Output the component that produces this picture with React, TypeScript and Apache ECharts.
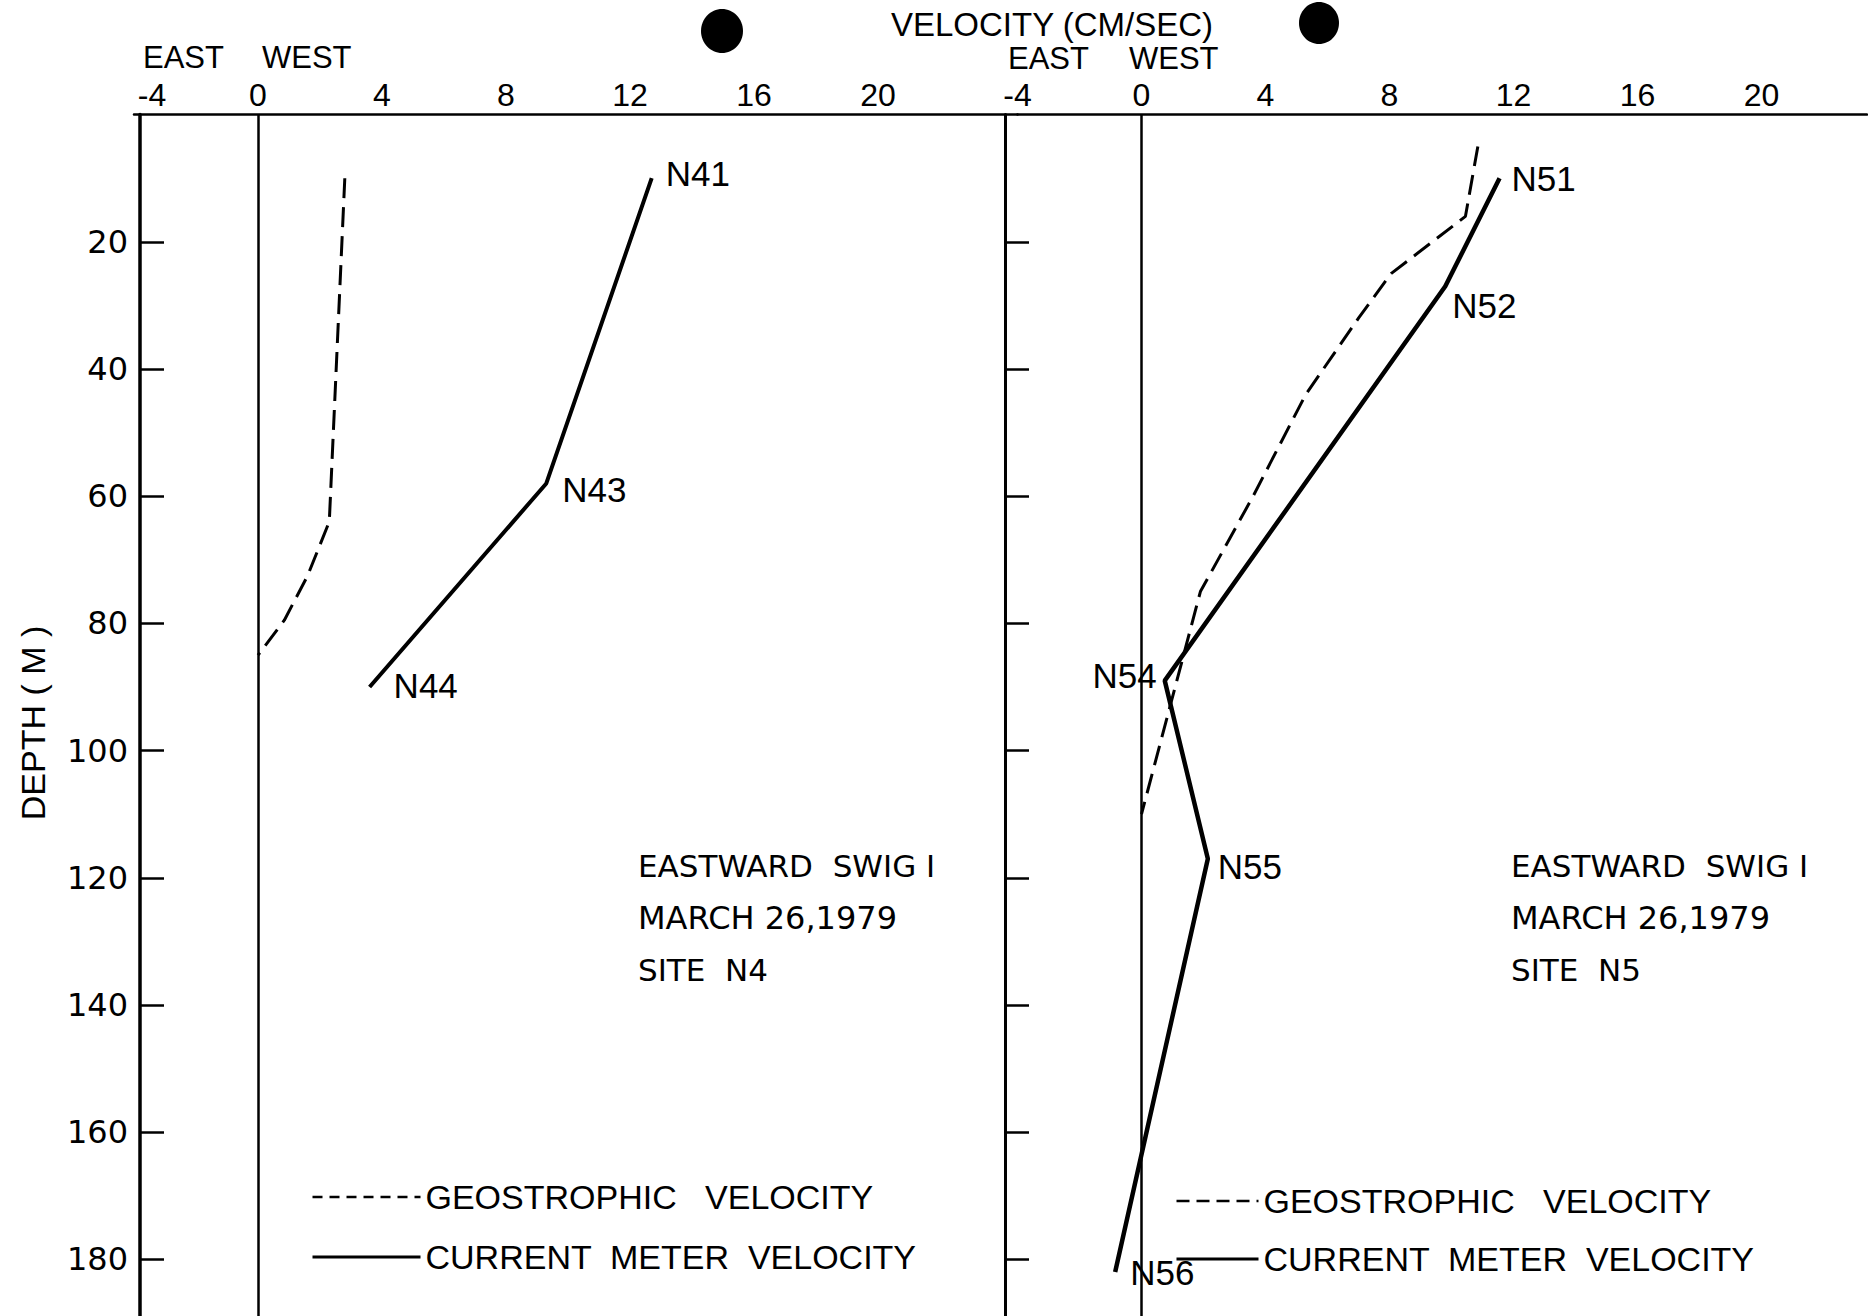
import React, { useEffect, useRef } from 'react';
import * as echarts from 'echarts';

// ---------- tick labels ----------
const velocityTicks = [-4, 0, 4, 8, 12, 16, 20];
const depthTicks = [20, 40, 60, 80, 100, 120, 140, 160, 180];

// ---------- Site N4 ----------
const n4GeoVelocity = [2.8, 2.3, 1.6, 0.85, 0];
const n4GeoDepth = [10, 64, 72.5, 79.5, 85];
const n4MeterVelocity = [12.7, 9.3, 3.6];
const n4MeterDepth = [10, 58, 90];
const n4MeterNames = ['N41', 'N43', 'N44'];

// ---------- Site N5 ----------
const n5GeoVelocity = [10.85, 10.45, 8.05, 7.0, 5.3, 3.6, 1.9, 0];
const n5GeoDepth = [5, 16, 25, 32, 44, 60, 75, 110];
const n5MeterVelocity = [11.55, 9.8, 0.75, 2.14, -0.85];
const n5MeterDepth = [10, 27, 89, 117, 182];
const n5MeterNames = ['N51', 'N52', 'N54', 'N55', 'N56'];

const GEO = 'GEOSTROPHIC   VELOCITY';
const CUR = 'CURRENT  METER  VELOCITY';

const labelPlacement: Record<string, { position: string; offset: number[] }> = {
  N41: { position: 'right', offset: [13, -5] },
  N43: { position: 'right', offset: [15, 6] },
  N44: { position: 'right', offset: [23, -1] },
  N51: { position: 'right', offset: [11, 0] },
  N52: { position: 'right', offset: [6, 19] },
  N54: { position: 'left', offset: [-7, -5] },
  N55: { position: 'right', offset: [9, 8] },
  N56: { position: 'right', offset: [14, 0] },
};

const SANS = "'Liberation Sans', Arial, sans-serif";
const WIDE = "'DejaVu Sans', Verdana, sans-serif";

function pairs(xs: number[], ys: number[]) {
  return xs.map((x, i) => [x, ys[i]]);
}

function namedPoints(xs: number[], ys: number[], names: string[]) {
  return xs.map((x, i) => ({
    value: [x, ys[i]],
    name: names[i],
    label: {
      show: true,
      position: labelPlacement[names[i]].position,
      offset: labelPlacement[names[i]].offset,
    },
  }));
}

export default function App() {
  const ref = useRef<HTMLDivElement>(null);

  useEffect(() => {
    if (!ref.current) return;
    const chart = echarts.init(ref.current, undefined, { renderer: 'svg' });

    const PX = 31; // px per cm/s
    const leftGrid = { left: 134, top: 114.6, width: 28.5 * PX, height: 1202, outerBoundsMode: 'none' };
    const rightGrid = { left: 1017.5, top: 114.6, width: 27.4 * PX, height: 1202, outerBoundsMode: 'none' };

    const xAxisBase = (gridIndex: number, max: number, shiftFirst: boolean) => ({
      type: 'value',
      gridIndex,
      position: 'top',
      min: -4,
      max,
      splitLine: { show: false },
      axisTick: { show: false },
      axisLine: { show: true, onZero: false, lineStyle: { color: '#000', width: 2.5 } },
      axisLabel: {
        customValues: velocityTicks,
        color: '#000',
        fontFamily: SANS,
        fontSize: 32,
        lineHeight: 32,
        margin: 4,
        formatter: (v: number) => (shiftFirst && v === velocityTicks[0] ? '{s|' + v + '}' : String(v)),
        rich: { s: { padding: [0, 0, 0, 36], fontFamily: SANS, fontSize: 32, lineHeight: 32, color: '#000' } },
      },
    });

    const yAxisBase = (gridIndex: number, showLabels: boolean, offset: number, lineWidth: number) => ({
      type: 'value',
      gridIndex,
      inverse: true,
      min: 0,
      max: 189,
      offset,
      splitLine: { show: false },
      axisLine: { show: true, onZero: false, lineStyle: { color: '#000', width: lineWidth } },
      axisTick: {
        show: true,
        inside: true,
        length: 24,
        customValues: depthTicks,
        lineStyle: { color: '#000', width: 2.5 },
      },
      axisLabel: {
        show: showLabels,
        customValues: depthTicks,
        color: '#000',
        fontFamily: WIDE,
        fontSize: 32,
        margin: 12,
      },
    });

    const zeroLine = {
      silent: true,
      symbol: ['none', 'none'],
      label: { show: false },
      lineStyle: { color: '#000', width: 2.5, type: 'solid' },
      data: [{ xAxis: 0 }],
    };

    const pointLabel = {
      show: false,
      formatter: '{b}',
      distance: 0,
      color: '#000',
      fontFamily: SANS,
      fontSize: 35,
    };

    const geoSeries = (idx: number, data: number[][], dash: number[]) => ({
      type: 'line',
      name: GEO,
      xAxisIndex: idx,
      yAxisIndex: idx,
      data,
      symbol: 'none',
      itemStyle: { color: 'rgba(0,0,0,0)' },
      lineStyle: { color: '#000', width: 3, type: dash },
      markLine: zeroLine,
      z: 3,
    });

    const meterSeries = (idx: number, data: any[], width: number) => ({
      type: 'line',
      name: CUR,
      xAxisIndex: idx,
      yAxisIndex: idx,
      data,
      symbol: 'circle',
      symbolSize: 2,
      showSymbol: true,
      itemStyle: { color: 'rgba(0,0,0,0)' },
      lineStyle: { color: '#000', width },
      label: pointLabel,
      z: 4,
    });

    const legendBase = (left: number, top: number, itemWidth: number, itemGap: number, dash: number[]) => ({
      left,
      top,
      orient: 'vertical',
      padding: 0,
      itemWidth,
      itemHeight: 20,
      itemGap,
      selectedMode: false,
      textStyle: { color: '#000', fontFamily: SANS, fontSize: 34, lineHeight: 34 },
      data: [
        { name: GEO, itemStyle: { color: 'rgba(0,0,0,0)', opacity: 0 }, lineStyle: { type: dash, width: 2.5, color: '#000' } },
        { name: CUR, itemStyle: { color: 'rgba(0,0,0,0)', opacity: 0 }, lineStyle: { type: 'solid', width: 3, color: '#000' } },
      ],
    });

    const textEl = (text: string, x: number, y: number, size: number, family: string, extra: any = {}) => ({
      type: 'text',
      x,
      y,
      silent: true,
      ...extra,
      style: {
        text,
        fill: '#000',
        font: `${size}px ${family}`,
        align: extra.align || 'left',
        verticalAlign: 'middle',
      },
    });

    chart.setOption({
      animation: false,
      backgroundColor: '#fff',
      grid: [leftGrid, rightGrid],
      xAxis: [xAxisBase(0, 24.5, true), xAxisBase(1, 23.4, false)],
      yAxis: [yAxisBase(0, true, -6, 3.5), yAxisBase(1, false, 12.5, 3)],
      legend: [
        legendBase(311, 1180, 108, 26, [10, 7]),
        legendBase(1175, 1184, 82, 24, [13, 7]),
      ],
      series: [
        geoSeries(0, pairs(n4GeoVelocity, n4GeoDepth), [20, 9]),
        meterSeries(0, namedPoints(n4MeterVelocity, n4MeterDepth, n4MeterNames), 4),
        geoSeries(1, pairs(n5GeoVelocity, n5GeoDepth), [20, 9]),
        meterSeries(1, namedPoints(n5MeterVelocity, n5MeterDepth, n5MeterNames), 4.5),
      ],
      graphic: [
        textEl('VELOCITY (CM/SEC)', 891, 24, 33, SANS),
        textEl('EAST', 143, 57, 31, SANS),
        textEl('WEST', 262, 57, 31, SANS),
        textEl('EAST', 1008, 58, 31, SANS),
        textEl('WEST', 1129, 58, 31, SANS),
        textEl('DEPTH ( M )', 33, 723, 34, SANS, { rotation: Math.PI / 2, align: 'center' }),
        textEl('EASTWARD  SWIG I', 638, 866, 31, WIDE),
        textEl('MARCH 26,1979', 638, 918, 32, WIDE),
        textEl('SITE  N4', 638, 970, 31, WIDE),
        textEl('EASTWARD  SWIG I', 1511, 866, 31, WIDE),
        textEl('MARCH 26,1979', 1511, 918, 32, WIDE),
        textEl('SITE  N5', 1511, 970, 31, WIDE),
        { type: 'ellipse', silent: true, shape: { cx: 722, cy: 31, rx: 21, ry: 22 }, style: { fill: '#000' } },
        { type: 'ellipse', silent: true, shape: { cx: 1319, cy: 23, rx: 20, ry: 21 }, style: { fill: '#000' } },
      ],
    });

    return () => chart.dispose();
  }, []);

  return (
    <div
      ref={ref}
      style={{ position: 'absolute', left: 0, top: 0, width: 1868, height: 1316, background: '#fff' }}
    />
  );
}
